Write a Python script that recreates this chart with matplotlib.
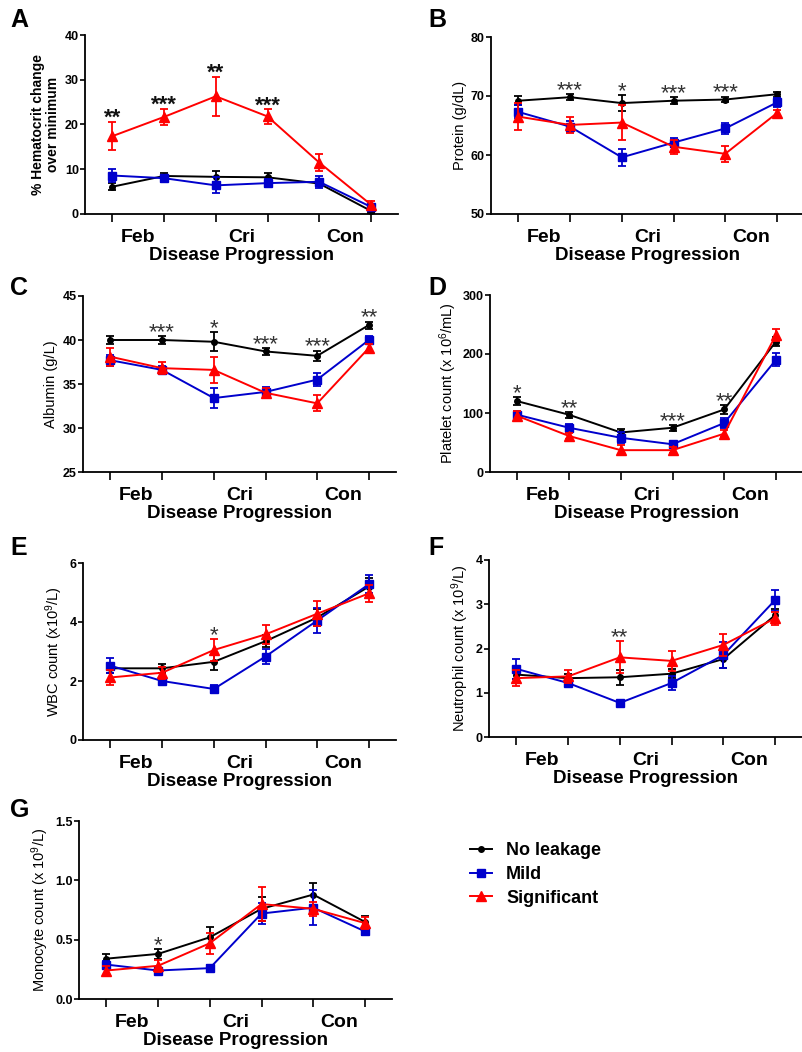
import matplotlib
matplotlib.use('Agg')
import matplotlib.pyplot as plt
from matplotlib.lines import Line2D

plt.rcParams['font.family'] = ['Liberation Sans', 'DejaVu Sans']
plt.rcParams['mathtext.fontset'] = 'custom'
plt.rcParams['mathtext.rm'] = 'Liberation Sans'
plt.rcParams['mathtext.bf'] = 'Liberation Sans:bold'
plt.rcParams['mathtext.it'] = 'Liberation Sans:italic'

# ---------------- data ----------------
x = [1, 2, 3, 4, 5, 6]
categories = ['Feb', 'Cri', 'Con']
category_pos = [1.5, 3.5, 5.5]
series_names = ['No leakage', 'Mild', 'Significant']

# A: % Hematocrit change over minimum
hct_none = [6.1, 8.5, 8.3, 8.2, 6.8, 0.7]
hct_none_err = [0.8, 0.7, 1.2, 0.9, 0.6, 0.4]
hct_mild = [8.6, 8.0, 6.4, 6.9, 7.2, 1.6]
hct_mild_err = [1.4, 0.8, 1.8, 0.9, 1.4, 0.5]
hct_sig = [17.4, 21.7, 26.3, 21.8, 11.5, 2.1]
hct_sig_err = [3.2, 1.8, 4.4, 1.6, 1.9, 0.9]
hct_stars = ['**', '***', '**', '***', '', '']

# B: Protein (g/dL)
prot_none = [69.2, 69.8, 68.8, 69.2, 69.4, 70.3]
prot_none_err = [0.8, 0.5, 1.3, 0.6, 0.5, 0.4]
prot_mild = [67.3, 64.8, 59.6, 62.1, 64.5, 68.9]
prot_mild_err = [1.1, 0.9, 1.5, 0.8, 1.0, 0.7]
prot_sig = [66.5, 65.1, 65.5, 61.4, 60.2, 67.1]
prot_sig_err = [2.3, 1.3, 2.9, 1.2, 1.4, 0.6]
prot_stars = ['', '***', '*', '***', '***', '']

# C: Albumin (g/L)
alb_none = [40.0, 40.0, 39.8, 38.7, 38.2, 41.7]
alb_none_err = [0.4, 0.4, 1.1, 0.4, 0.6, 0.4]
alb_mild = [37.7, 36.6, 33.4, 34.1, 35.5, 40.0]
alb_mild_err = [0.6, 0.4, 1.1, 0.6, 0.7, 0.4]
alb_sig = [38.1, 36.8, 36.6, 34.0, 32.8, 39.1]
alb_sig_err = [1.0, 0.7, 1.5, 0.5, 0.9, 0.5]
alb_stars = ['', '***', '*', '***', '***', '**']

# D: Platelet count
plt_none = [120, 97, 67, 75, 106, 221]
plt_none_err = [7, 5, 6, 5, 8, 8]
plt_mild = [97, 75, 58, 47, 83, 190]
plt_mild_err = [6, 7, 9, 4, 9, 11]
plt_sig = [95, 61, 37, 37, 65, 232]
plt_sig_err = [9, 5, 9, 5, 6, 10]
plt_stars = ['*', '**', '', '***', '**', '']

# E: WBC count
wbc_none = [2.43, 2.43, 2.65, 3.35, 4.15, 5.20]
wbc_none_err = [0.15, 0.15, 0.28, 0.20, 0.30, 0.30]
wbc_mild = [2.52, 2.00, 1.73, 2.83, 4.05, 5.28]
wbc_mild_err = [0.25, 0.10, 0.15, 0.25, 0.42, 0.30]
wbc_sig = [2.12, 2.28, 3.05, 3.58, 4.28, 4.97]
wbc_sig_err = [0.25, 0.20, 0.38, 0.33, 0.42, 0.28]
wbc_stars = ['', '', '*', '', '', '']

# F: Neutrophil count
neu_none = [1.41, 1.33, 1.35, 1.43, 1.76, 2.75]
neu_none_err = [0.10, 0.10, 0.17, 0.10, 0.20, 0.15]
neu_mild = [1.54, 1.22, 0.77, 1.22, 1.85, 3.09]
neu_mild_err = [0.22, 0.06, 0.04, 0.16, 0.30, 0.24]
neu_sig = [1.33, 1.37, 1.80, 1.72, 2.08, 2.68]
neu_sig_err = [0.18, 0.15, 0.36, 0.23, 0.25, 0.15]
neu_stars = ['', '', '**', '', '', '']

# G: Monocyte count
mono_none = [0.34, 0.38, 0.52, 0.76, 0.88, 0.65]
mono_none_err = [0.04, 0.04, 0.09, 0.10, 0.10, 0.05]
mono_mild = [0.29, 0.24, 0.26, 0.72, 0.77, 0.57]
mono_mild_err = [0.03, 0.02, 0.03, 0.09, 0.15, 0.03]
mono_sig = [0.24, 0.28, 0.47, 0.80, 0.76, 0.64]
mono_sig_err = [0.04, 0.05, 0.09, 0.14, 0.06, 0.05]
mono_stars = ['', '*', '', '', '', '']

# ---------------- styling ----------------
W, H = 803, 1052
fig = plt.figure(figsize=(W / 100, H / 100), dpi=100)

colors = ['#000000', '#0000CC', '#FF0000']
markers = ['o', 's', '^']
msizes = [4.0, 6.0, 6.5]

panels = [
    ('A', (85, 35, 214), (hct_none, hct_none_err, hct_mild, hct_mild_err, hct_sig, hct_sig_err), hct_stars,
     [0, 10, 20, 30, 40], '% Hematocrit change\nover minimum', '{:g}'),
    ('B', (491, 37, 214), (prot_none, prot_none_err, prot_mild, prot_mild_err, prot_sig, prot_sig_err), prot_stars,
     [50, 60, 70, 80], 'Protein (g/dL)', '{:g}'),
    ('C', (83, 296, 472), (alb_none, alb_none_err, alb_mild, alb_mild_err, alb_sig, alb_sig_err), alb_stars,
     [25, 30, 35, 40, 45], 'Albumin (g/L)', '{:g}'),
    ('D', (490, 295, 472), (plt_none, plt_none_err, plt_mild, plt_mild_err, plt_sig, plt_sig_err), plt_stars,
     [0, 100, 200, 300], 'Platelet count (x 10$^{6}$/mL)', '{:g}'),
    ('E', (83, 563, 740), (wbc_none, wbc_none_err, wbc_mild, wbc_mild_err, wbc_sig, wbc_sig_err), wbc_stars,
     [0, 2, 4, 6], 'WBC count (x10$^{9}$/L)', '{:g}'),
    ('F', (489, 560, 737), (neu_none, neu_none_err, neu_mild, neu_mild_err, neu_sig, neu_sig_err), neu_stars,
     [0, 1, 2, 3, 4], 'Neutrophil count (x 10$^{9}$/L)', '{:g}'),
    ('G', (79, 821, 999), (mono_none, mono_none_err, mono_mild, mono_mild_err, mono_sig, mono_sig_err), mono_stars,
     [0.0, 0.5, 1.0, 1.5], 'Monocyte count (x 10$^{9}$/L)', '{:.1f}'),
]

XLO, XHI = 0.47, 6.52
SPACING = 51.7
AX_W = (XHI - XLO) * SPACING

for letter, (sx, top, bot), d, stars, yticks, ylabel, fmt in panels:
    ax = fig.add_axes([sx / W, 1 - bot / H, AX_W / W, (bot - top) / H])
    for i in range(3):
        v, e = d[2 * i], d[2 * i + 1]
        ax.errorbar(x, v, yerr=e, color=colors[i], marker=markers[i], ms=msizes[i],
                    lw=1.4, elinewidth=1.3, capsize=3.2, capthick=1.3, clip_on=False, zorder=3 + i)
    ax.set_xlim(XLO, XHI)
    ax.set_ylim(yticks[0], yticks[-1])
    ax.set_yticks(yticks)
    ax.set_yticklabels([fmt.format(t) for t in yticks], fontsize=9, fontweight='bold')
    ax.set_xticks(x)
    ax.set_xticklabels([''] * 6)
    ax.set_xticks(category_pos, minor=True)
    ax.set_xticklabels(categories, minor=True, fontsize=14, fontweight='bold')
    ax.tick_params(axis='x', which='major', direction='out', length=6, width=1.2)
    ax.tick_params(axis='x', which='minor', length=0, pad=10.5)
    ax.tick_params(axis='y', direction='out', length=3.5, width=1.2, pad=1)
    for s in ['top', 'right']:
        ax.spines[s].set_visible(False)
    for s in ['left', 'bottom']:
        ax.spines[s].set_linewidth(1.3)
    ax.set_xlabel('Disease Progression', fontsize=13.5, fontweight='bold', labelpad=1)
    if letter == 'A':
        ax.set_ylabel(ylabel, fontsize=10, fontweight='bold', labelpad=3, linespacing=1.1)
    else:
        ax.set_ylabel(ylabel, fontsize=10.5, labelpad=3)
    # significance stars above highest error bar
    for j, st in enumerate(stars):
        if not st:
            continue
        topv = max(d[0][j] + d[1][j], d[2][j] + d[3][j], d[4][j] + d[5][j])
        ax.annotate(st, (x[j], topv), xytext=(0, -1.5), textcoords='offset points',
                    ha='center', va='baseline', fontsize=16,
                    fontweight='bold' if letter == 'A' else 'normal',
                    color='#111111' if letter == 'A' else '#333333', annotation_clip=False)
    lx = 10 if sx < 300 else 428
    ly = {'A': 27, 'B': 27, 'C': 295, 'D': 295, 'E': 555, 'F': 555, 'G': 817}[letter]
    fig.text(lx / W, 1 - ly / H, letter, fontsize=18, fontweight='bold', ha='left', va='baseline')

# legend
handles = [Line2D([0], [0], color=colors[i], marker=markers[i], ms=msizes[i], lw=1.4)
           for i in range(3)]
fig.legend(handles, series_names, loc='upper left', bbox_to_anchor=(470 / W, 1 - 842 / H),
           frameon=False, prop={'size': 13, 'weight': 'bold'}, handlelength=1.2,
           handletextpad=0.8, labelspacing=0.38, borderpad=0, borderaxespad=0)

fig.savefig('out.png', dpi=100)
